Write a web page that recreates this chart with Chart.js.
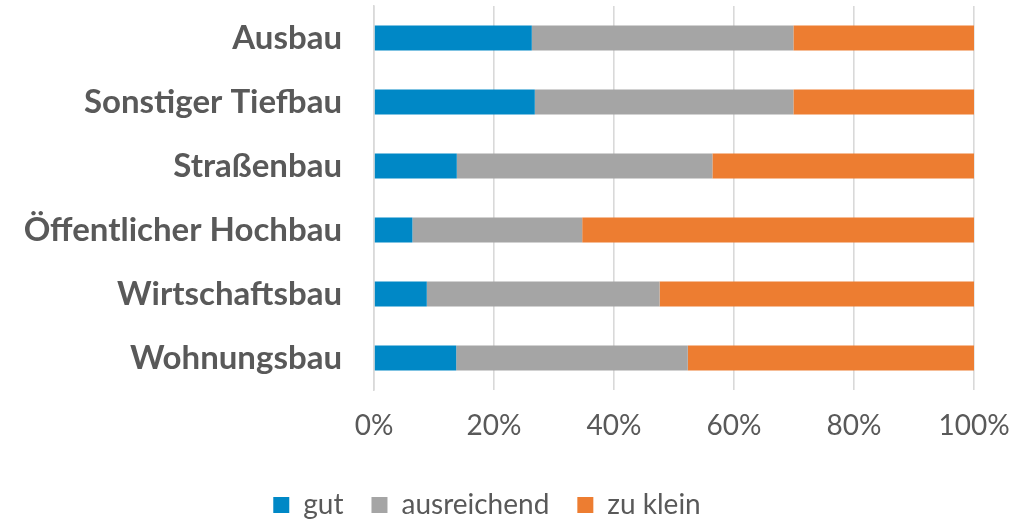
<!DOCTYPE html>
<html>
<head>
<meta charset="utf-8">
<script src="https://cdn.jsdelivr.net/npm/chart.js@4"></script>
<style>
  html, body { margin: 0; padding: 0; background: #fff; }
  #wrap { width: 1018px; height: 519px; }
</style>
</head>
<body>
<div id="wrap"><canvas id="bar-chartcanvas" width="1018" height="519"></canvas></div>
<script>
// categories top to bottom
var categories = ["Ausbau", "Sonstiger Tiefbau", "Straßenbau", "Öffentlicher Hochbau", "Wirtschaftsbau", "Wohnungsbau"];

// shares in percent
var gut = [26.3, 26.8, 13.8, 6.4, 8.8, 13.7];
var ausreichend = [43.6, 43.1, 42.6, 28.3, 38.8, 38.6];
var zuKlein = [30.1, 30.1, 43.6, 65.3, 52.4, 47.7];

var xTicks = [0, 20, 40, 60, 80, 100];

var labelFont = "Lato, 'Noto Sans', sans-serif";
var textColor = "#595959";
var gridColor = "#d9d9d9";

var ctx = document.getElementById("bar-chartcanvas");

var data = {
    labels: categories,
    datasets: [
        { label: "gut", data: gut, backgroundColor: "#0088c6", borderWidth: 0 },
        { label: "ausreichend", data: ausreichend, backgroundColor: "#a5a5a5", borderWidth: 0 },
        { label: "zu klein", data: zuKlein, backgroundColor: "#ed7d31", borderWidth: 0 }
    ]
};

var options = {
    indexAxis: "y",
    responsive: false,
    animation: false,
    layout: { padding: { left: 0, right: 44, top: 6, bottom: -10 } },
    datasets: { bar: { categoryPercentage: 1, barPercentage: 0.39 } },
    scales: {
        x: {
            stacked: true,
            min: 0,
            max: 100,
            afterBuildTicks: function (scale) {
                scale.ticks = xTicks.map(function (v) { return { value: v }; });
            },
            afterFit: function (scale) {
                scale.height = 73;
                scale.paddingLeft = 0;
                scale.paddingRight = 0;
            },
            grid: { color: gridColor, lineWidth: 1.6, drawTicks: false },
            border: { display: false },
            ticks: {
                padding: 19,
                maxRotation: 0,
                color: textColor,
                font: { family: labelFont, size: 28 },
                callback: function (v) { return v + "%"; }
            }
        },
        y: {
            stacked: true,
            afterFit: function (scale) {
                scale.width = 374;
                scale.paddingTop = 0;
                scale.paddingBottom = 0;
            },
            grid: { display: false, drawTicks: false },
            border: { display: true, color: gridColor, width: 1.6 },
            ticks: {
                padding: 32,
                color: textColor,
                font: { family: labelFont, size: 33, weight: "bold" }
            }
        }
    },
    plugins: {
        legend: {
            display: true,
            position: "bottom",
            labels: {
                color: textColor,
                font: { family: labelFont, size: 28 },
                boxWidth: 16,
                boxHeight: 16,
                padding: 28
            }
        },
        tooltip: { enabled: false }
    }
};

new Chart(ctx, { type: "bar", data: data, options: options });
</script>
</body>
</html>
